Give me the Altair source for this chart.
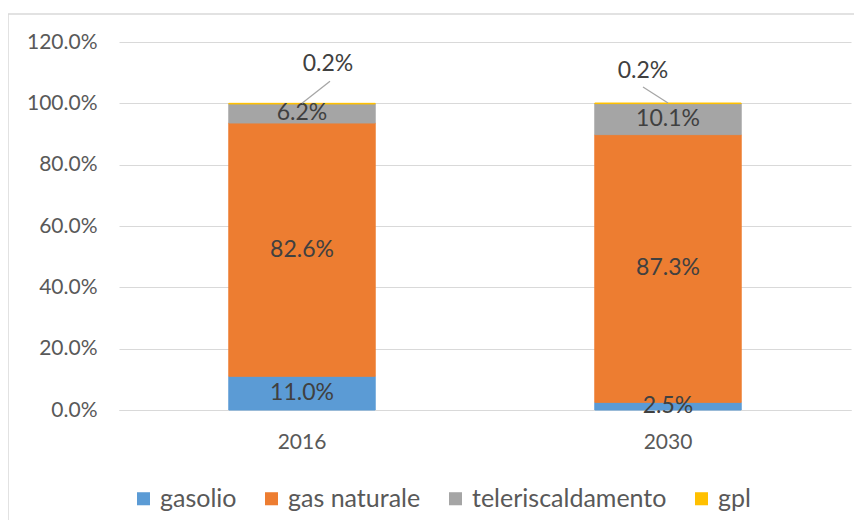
import altair as alt
import pandas as pd

years = ["2016", "2030"]
fuels = ["gasolio", "gas naturale", "teleriscaldamento", "gpl"]
colors = ["#5B9BD5", "#ED7D31", "#A5A5A5", "#FFC000"]
values = {
    "2016": [0.110, 0.826, 0.062, 0.002],
    "2030": [0.025, 0.873, 0.101, 0.002],
}

rows = []
for y in years:
    cum = 0.0
    for i, f in enumerate(fuels):
        v = values[y][i]
        rows.append({"year": y, "fuel": f, "value": v, "ord": i,
                     "y0": cum, "y1": cum + v, "mid": cum + v / 2,
                     "label": f"{v*100:.1f}%"})
        cum += v
df = pd.DataFrame(rows)

FONT = "Lato"
TXT = "#404040"

base = alt.Chart(df)
cscale = alt.Scale(domain=fuels, range=colors)

bars = base.mark_bar(strokeWidth=1).encode(
    x=alt.X("year:N", sort=years, title=None,
            scale=alt.Scale(paddingInner=0.6, paddingOuter=0.3),
            axis=alt.Axis(labelAngle=0, ticks=False, domain=True, domainColor="#D9D9D9",
                          labelFontSize=21, labelColor="#595959", labelFont=FONT, labelPadding=21)),
    y=alt.Y("y0:Q", title=None,
            scale=alt.Scale(domain=[0, 1.2], nice=False),
            axis=alt.Axis(values=[0, 0.2, 0.4, 0.6, 0.8, 1.0, 1.2], format=".1%",
                          ticks=False, domain=False, grid=True, gridColor="#D9D9D9",
                          labelFontSize=21, labelColor="#595959", labelFont=FONT, labelPadding=22)),
    y2="y1:Q",
    color=alt.Color("fuel:N", sort=fuels, scale=cscale,
                    legend=alt.Legend(title=None, orient="none", direction="horizontal",
                                      legendX=12, legendY=444, symbolType="square",
                                      symbolSize=170, symbolStrokeWidth=0,
                                      labelFontSize=25, labelFont=FONT, labelColor="#595959",
                                      labelLimit=0, columnPadding=22, labelOffset=4)),
    stroke=alt.Stroke("fuel:N", sort=fuels, scale=cscale, legend=None),
)

inner = base.transform_filter(alt.datum.fuel != "gpl").mark_text(
    font=FONT, fontSize=23, color=TXT
).encode(x=alt.X("year:N", sort=years), y="mid:Q", text="label:N")

gpl16 = base.transform_filter((alt.datum.fuel == "gpl") & (alt.datum.year == "2016"))
gpl30 = base.transform_filter((alt.datum.fuel == "gpl") & (alt.datum.year == "2030"))

t16 = gpl16.mark_text(font=FONT, fontSize=23, color=TXT, dx=26, dy=-39).encode(
    x=alt.X("year:N", sort=years), y="y1:Q", text="label:N")
t30 = gpl30.mark_text(font=FONT, fontSize=23, color=TXT, dx=-25, dy=-32).encode(
    x=alt.X("year:N", sort=years), y="y1:Q", text="label:N")

l16 = gpl16.mark_rule(color="#A6A6A6", strokeWidth=1.3, x2Offset=28, y2Offset=-22).encode(
    x=alt.X("year:N", sort=years), x2="year:N", y="y1:Q", y2="y1:Q")
l30 = gpl30.mark_rule(color="#A6A6A6", strokeWidth=1.3, x2Offset=-25, y2Offset=-16).encode(
    x=alt.X("year:N", sort=years), x2="year:N", y="y1:Q", y2="y1:Q")

frame_top = alt.Chart(pd.DataFrame({"k": [0]})).mark_rule(color="#D9D9D9", strokeWidth=1.5).encode(
    x=alt.value(-111), x2=alt.value(745), y=alt.value(-28))
frame_left = alt.Chart(pd.DataFrame({"k": [0]})).mark_rule(color="#D9D9D9", strokeWidth=1.5).encode(
    x=alt.value(-111), y=alt.value(-28), y2=alt.value(500))

chart = alt.layer(bars, inner, l16, l30, t16, t30, frame_top, frame_left).properties(
    width=732, height=368,
    autosize=alt.AutoSizeParams(type="none"),
    padding={"left": 111, "top": 34, "right": 3, "bottom": 110},
    background="white",
).configure_view(stroke=None)

chart.save("out.html", embed_options={"renderer": "svg", "actions": False})
